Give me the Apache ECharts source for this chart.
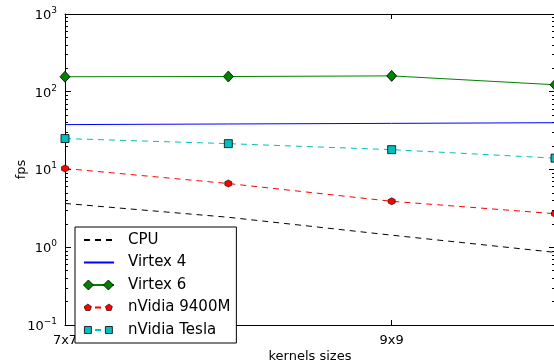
<!DOCTYPE html>
<html>
<head>
<meta charset="utf-8">
<script src="https://cdn.jsdelivr.net/npm/echarts@6/dist/echarts.min.js"></script>
<style>html,body{margin:0;padding:0;background:#fff}#c{width:554px;height:364px}</style>
</head>
<body>
<div id="c"></div>
<script>
const categories = ['7x7', '8x8', '9x9', '10x10'];
const cpu = [3.66, 2.43, 1.43, 0.86];
const virtex4 = [37.8, 38.5, 39.2, 40];
const virtex6 = [156, 157, 160, 123];
const nvidia9400m = [10.3, 6.6, 3.9, 2.7];
const nvidiaTesla = [25, 21.5, 18, 14];
const seriesNames = ['CPU', 'Virtex 4', 'Virtex 6', 'nVidia 9400M', 'nVidia Tesla'];
const yMajorTicks = [0.1, 1, 10, 100, 1000];
const yMinorTicks = [];
for (let d = 0; d < yMajorTicks.length - 1; d++) {
  for (let m = 2; m <= 9; m++) yMinorTicks.push(+(yMajorTicks[d] * m).toPrecision(3));
}
const FONT = 'DejaVu Sans';
const hexagon = 'path://M5 0 L9.33 2.5 L9.33 7.5 L5 10 L0.67 7.5 L0.67 2.5 Z';
// legend icons: two markers at the ends of a 30x10 box
const icon2Diamonds = 'path://M0 5 L5 0 L10 5 L5 10 Z M20 5 L25 0 L30 5 L25 10 Z';
const icon2Pentagons = 'path://M0 0 Z M30 10 Z M4.5 1.5 L8 4 L6.7 8 L2.3 8 L1 4 Z M25.5 1.5 L29 4 L27.7 8 L23.3 8 L22 4 Z';
const icon2Squares = 'path://M0 0 Z M30 10 Z M1 1.5 L8 1.5 L8 8.5 L1 8.5 Z M22 1.5 L29 1.5 L29 8.5 L22 8.5 Z';

const chart = echarts.init(document.getElementById('c'), null, {renderer: 'canvas'});
const axisLineStyle = {color: '#000', width: 1};

function minorAxis(pos) {
  return {
    type: 'log', logBase: 10, min: 0.1, max: 1000, position: pos,
    axisLine: {show: false}, splitLine: {show: false},
    axisLabel: {show: false},
    axisTick: {show: true, inside: true, length: 3, lineStyle: axisLineStyle, customValues: yMinorTicks}
  };
}

const legendBase = {
  orient: 'vertical', left: 75, top: 227,
  borderRadius: 0,
  padding: [5, 6, 5, 8],
  itemWidth: 30, itemHeight: 10, itemGap: 6.5,
  selectedMode: false
};
// line part of the legend (with box and text)
const legendLines = Object.assign({}, legendBase, {
  data: seriesNames.map(function (n) { return {name: n, itemStyle: {opacity: 0}}; }),
  backgroundColor: '#fff', borderColor: '#000', borderWidth: 1,
  textStyle: {fontFamily: FONT, fontSize: 15, color: '#000', lineHeight: 16, padding: [0, 0, 0, 9]},
  z: 10
});
// marker part of the legend, overlaid
const legendMarks = Object.assign({}, legendBase, {
  data: [
    {name: seriesNames[0], icon: 'rect', itemStyle: {opacity: 0}},
    {name: seriesNames[1], icon: 'rect', itemStyle: {opacity: 0}},
    {name: seriesNames[2], icon: icon2Diamonds, itemStyle: {color: '#008000', borderColor: '#000', borderWidth: 0.8}},
    {name: seriesNames[3], icon: icon2Pentagons, itemStyle: {color: '#ff0000', borderColor: '#000', borderWidth: 0.6}},
    {name: seriesNames[4], icon: icon2Squares, itemStyle: {color: '#00bfbf', borderColor: '#000', borderWidth: 0.8}}
  ],
  backgroundColor: 'transparent', borderWidth: 0,
  textStyle: {fontFamily: FONT, fontSize: 15, color: 'rgba(0,0,0,0)', lineHeight: 16, padding: [0, 0, 0, 9]},
  z: 11
});

chart.setOption({
  animation: false,
  backgroundColor: '#fff',
  textStyle: {fontFamily: FONT},
  grid: {left: 65, top: 14, right: -1, bottom: 39, containLabel: false, outerBoundsMode: 'none'},
  legend: [legendLines, legendMarks],
  xAxis: [{
    type: 'category', data: categories, boundaryGap: false, position: 'bottom',
    name: 'kernels sizes', nameLocation: 'middle', nameGap: 25, nameMoveOverlap: false,
    nameTextStyle: {fontFamily: FONT, fontSize: 13, color: '#000'},
    axisLine: {lineStyle: axisLineStyle},
    axisTick: {inside: true, length: 5, interval: 1, lineStyle: axisLineStyle},
    axisLabel: {interval: 1, margin: 9, fontFamily: FONT, fontSize: 13, color: '#000'},
    splitLine: {show: false}
  }, {
    type: 'category', data: categories, boundaryGap: false, position: 'top',
    axisLine: {lineStyle: axisLineStyle},
    axisTick: {inside: true, length: 5, interval: 1, lineStyle: axisLineStyle},
    axisLabel: {show: false},
    splitLine: {show: false}
  }],
  yAxis: [{
    type: 'log', logBase: 10, min: 0.1, max: 1000, position: 'left',
    name: 'fps', nameLocation: 'middle', nameGap: 37, nameRotate: 90, nameMoveOverlap: false,
    nameTextStyle: {fontFamily: FONT, fontSize: 13, color: '#000'},
    axisLine: {show: true, lineStyle: axisLineStyle},
    axisTick: {show: true, inside: true, length: 6, lineStyle: axisLineStyle},
    splitLine: {show: false},
    axisLabel: {
      margin: 8,
      formatter: function (v) {
        const e = Math.round(Math.log10(v));
        return '{b|10}{e|' + (e < 0 ? '\u2212' + (-e) : e) + '}';
      },
      rich: {
        b: {fontFamily: FONT, fontSize: 13, color: '#000', verticalAlign: 'bottom'},
        e: {fontFamily: FONT, fontSize: 9, color: '#000', verticalAlign: 'bottom', padding: [0, 0, 7, 0]}
      }
    }
  }, {
    type: 'log', logBase: 10, min: 0.1, max: 1000, position: 'right',
    axisLine: {show: true, lineStyle: axisLineStyle},
    axisTick: {show: true, inside: true, length: 6, lineStyle: axisLineStyle},
    axisLabel: {show: false}, splitLine: {show: false}
  }, minorAxis('left'), minorAxis('right')],
  series: [{
    name: 'CPU', type: 'line', data: cpu, symbol: 'none',
    lineStyle: {color: '#000', width: 1, type: [6, 5]}, itemStyle: {color: '#000'}
  }, {
    name: 'Virtex 4', type: 'line', data: virtex4, symbol: 'none',
    lineStyle: {color: '#0000ff', width: 1}, itemStyle: {color: '#0000ff'}
  }, {
    name: 'Virtex 6', type: 'line', data: virtex6, symbol: 'diamond', symbolSize: [10, 11],
    lineStyle: {color: '#008000', width: 1},
    itemStyle: {color: '#008000', borderColor: '#000', borderWidth: 0.8}
  }, {
    name: 'nVidia 9400M', type: 'line', data: nvidia9400m, symbol: hexagon, symbolSize: 7,
    lineStyle: {color: '#ff0000', width: 1, type: [6, 5]},
    itemStyle: {color: '#ff0000', borderColor: '#000', borderWidth: 0.6}
  }, {
    name: 'nVidia Tesla', type: 'line', data: nvidiaTesla, symbol: 'rect', symbolSize: 8,
    lineStyle: {color: '#00bfbf', width: 1, type: [6, 5]},
    itemStyle: {color: '#00bfbf', borderColor: '#000', borderWidth: 0.8}
  }]
});
</script>
</body>
</html>
